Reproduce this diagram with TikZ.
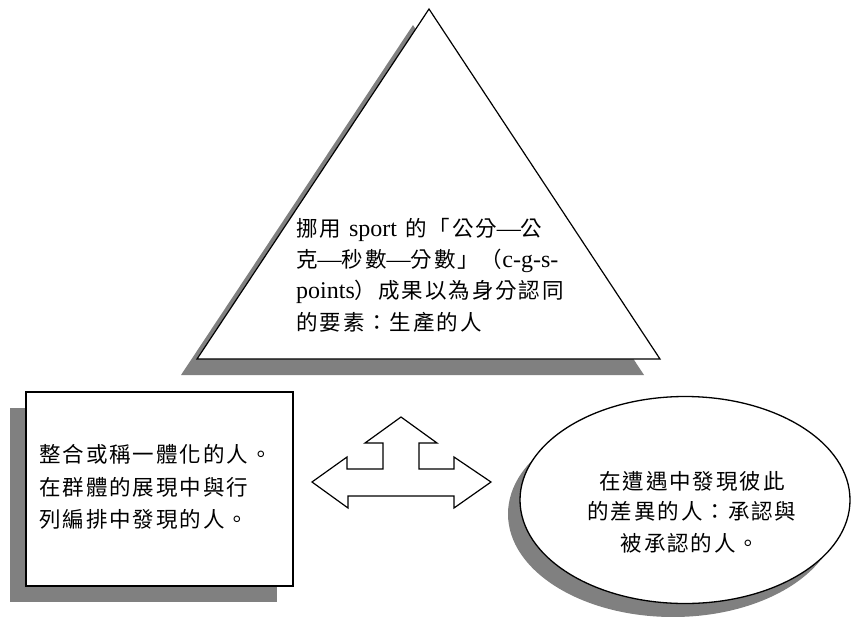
\documentclass[tikz,border=0pt]{standalone}
\usepackage{fontspec}
\setmainfont{Liberation Serif}
\newfontfamily\cjkfont[LetterSpace=9]{Noto Sans CJK TC}
\newcommand\zh[1]{{\fontsize{21.5}{30}\cjkfont #1}}
\begin{document}
\begin{tikzpicture}[x=1pt,y=-1pt,
  shadowfill/.style={fill=black!50,draw=none},
  shapeline/.style={draw=black,fill=white,line width=1.2pt,line join=miter},
  txt/.style={anchor=base west,inner sep=0pt,font=\fontsize{24}{30}\selectfont},
  ctxt/.style={anchor=base,inner sep=0pt,font=\fontsize{24}{30}\selectfont}]
\useasboundingbox (0,0) rectangle (851,616);

% triangle
\fill[shadowfill] (181,375) -- (413,25) -- (644,375) -- cycle;
\draw[shapeline] (197,359) -- (429,9) -- (660,359) -- cycle;

% box
\fill[shadowfill] (10,408) rectangle (277,602);
\draw[shapeline,line width=1.5pt] (26,392) rectangle (293,586);

% ellipse
\fill[shadowfill] (673,514) ellipse [x radius=165,y radius=103];
\draw[shapeline,line width=1.3pt] (685,500) ellipse [x radius=165,y radius=103.5];

% three-way arrow
\draw[shapeline] (312,482) -- (347,457) -- (347,469) -- (383,469) -- (383,443)
  -- (365,443) -- (401,417) -- (437,443) -- (419,443) -- (419,469) -- (454,469)
  -- (454,457) -- (491,482) -- (454,508) -- (454,496) -- (348,496) -- (348,508) -- cycle;

% triangle text
\node[txt] (t1) at (296,236) {\zh{挪用}\hspace{8pt}sport\hspace{8pt}\zh{的「公分}---\zh{公}};
\node[txt] (t2) at (296,267) {\zh{克}---\zh{秒數}---\zh{分數」（}c-g-s-};
\node[txt] (t3) at (296,298) {points\zh{）成果以為身分認同}};
\node[txt] (t4) at (296,330) {\zh{的要素：生產的人}};

% box text
\node[txt] (b1) at (39,462) {\zh{整合或稱一體化的人。}};
\node[txt] (b2) at (39,495) {\zh{在群體的展現中與行}};
\node[txt] (b3) at (39,527) {\zh{列編排中發現的人。}};

% ellipse text
\node[ctxt] (e1) at (692,489) {\zh{在遭遇中發現彼此}};
\node[ctxt] (e2) at (692,519) {\zh{的差異的人：承認與}};
\node[ctxt] (e3) at (690,551) {\zh{被承認的人。}};
\end{tikzpicture}
\end{document}
